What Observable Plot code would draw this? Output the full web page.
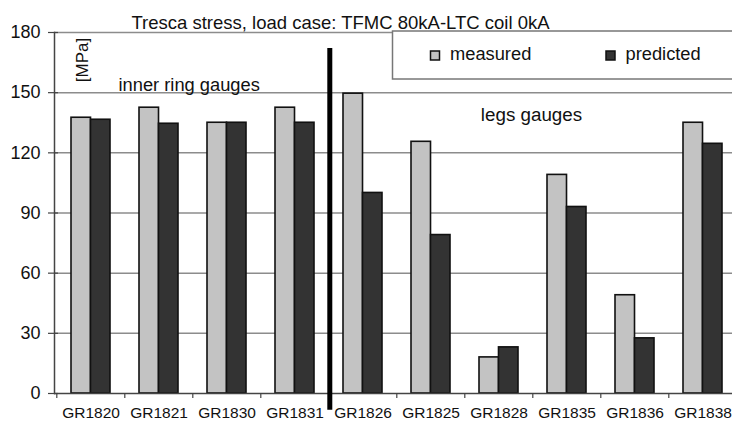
<!DOCTYPE html>
<html>
<head>
<meta charset="utf-8">
<script src="https://cdn.jsdelivr.net/npm/d3@7"></script>
<script src="https://cdn.jsdelivr.net/npm/@observablehq/plot@0.6"></script>
<style>
  html, body { margin: 0; padding: 0; background: #fff; overflow: hidden; }
  #chart svg { display: block; }
</style>
</head>
<body>
<div id="chart"></div>
<script>
const gauges = ["GR1820", "GR1821", "GR1830", "GR1831", "GR1826", "GR1825", "GR1828", "GR1835", "GR1836", "GR1838"];
const measured = [137.5, 142.5, 135, 142.5, 149.5, 125.5, 18, 109, 49, 135];
const predicted = [136.5, 134.5, 135, 135, 100, 79, 23, 93, 27.5, 124.5];
const seriesNames = ["measured", "predicted"];
const yTicks = [0, 30, 60, 90, 120, 150, 180];
const divider = ["GR1826"];
const title = "Tresca stress, load case: TFMC 80kA-LTC coil 0kA";
const unitLabel = "[MPa]";
const groupLabels = ["inner ring gauges", "legs gauges"];

const rows = gauges.flatMap((g, i) => [
  {gauge: g, series: seriesNames[0], value: measured[i]},
  {gauge: g, series: seriesNames[1], value: predicted[i]}
]);

const W = 732, H = 422, ML = 54, MR = -6, MT = 32, MB = 29;
const padInner = 0.43;
const step = (W - ML - MR) / gauges.length;
const half = step * (1 - padInner) / 2;
const colors = {measured: "#c3c3c3", predicted: "#333333"};
const font = "'Liberation Sans', Arial, Helvetica, sans-serif";

const plot = Plot.plot({
  width: W, height: H,
  marginLeft: ML, marginRight: MR, marginTop: MT, marginBottom: MB,
  style: {fontFamily: font, color: "#111", background: "#fff", overflow: "hidden"},
  x: {domain: gauges, paddingInner: padInner, paddingOuter: padInner / 2, label: null},
  y: {domain: [0, 180], label: null},
  marks: [
    Plot.gridY(yTicks.filter(d => d > 0), {stroke: "#8c8c8c", strokeOpacity: 1, strokeWidth: 1.5}),
    Plot.barY(rows.filter(d => d.series === "measured"), {
      x: "gauge", y: "value", fill: colors.measured, stroke: "#111", strokeWidth: 1.6, insetRight: half
    }),
    Plot.barY(rows.filter(d => d.series === "predicted"), {
      x: "gauge", y: "value", fill: colors.predicted, stroke: "#111", strokeWidth: 1.6, insetLeft: half
    }),
    Plot.ruleY([0], {stroke: "#444", strokeWidth: 1.5}),
    Plot.frame({anchor: "left", stroke: "#444", strokeWidth: 1.5}),
    Plot.axisY(yTicks, {tickSize: 10, dx: 4, text: null, stroke: "#444", strokeWidth: 1.2}),
    Plot.axisY(yTicks, {tickSize: 0, tickPadding: 14, fontSize: 18, label: null}),
    Plot.axisX({tickSize: 5, dx: -step / 2, text: null, stroke: "#444", strokeWidth: 1.2}),
    Plot.axisX({tickSize: 0, tickPadding: 13, fontSize: 15.5, label: null}),
    Plot.ruleX(divider, {x: d => d, dx: -step / 2 + 1, y1: -8.3, y2: 172, stroke: "#000", strokeWidth: 5}),
    Plot.text([title], {frameAnchor: "top-left", dx: 286, dy: -17, textAnchor: "middle", fontSize: 18.5, fill: "#111"}),
    Plot.text([unitLabel], {frameAnchor: "top-left", dx: 21, dy: 27.5, rotate: -90, textAnchor: "middle", fontSize: 17, fill: "#111"}),
    Plot.text([groupLabels[0]], {frameAnchor: "top-left", dx: 64, dy: 45, textAnchor: "start", fontSize: 18.3, fill: "#111"}),
    Plot.text([groupLabels[1]], {frameAnchor: "top-left", dx: 477, dy: 75, textAnchor: "middle", fontSize: 18.8, fill: "#111"})
  ]
});

document.getElementById("chart").appendChild(plot);

// legend box (inside the plot, top right)
const svg = d3.select(plot);
const lg = svg.append("g").attr("font-family", font).attr("font-size", 18.3)
  .attr("fill", "#111").attr("text-anchor", "start");
lg.append("rect").attr("x", 392.5).attr("y", 31).attr("width", 345).attr("height", 48)
  .attr("fill", "#fff").attr("stroke", "#777").attr("stroke-width", 1.5);
const legendX = [430.5, 606];
seriesNames.forEach((s, i) => {
  lg.append("rect").attr("x", legendX[i]).attr("y", 51).attr("width", 9).attr("height", 9)
    .attr("fill", colors[s]).attr("stroke", "#111").attr("stroke-width", 1.5);
  lg.append("text").attr("x", legendX[i] + 19.5).attr("y", 60).attr("text-anchor", "start").text(s);
});
</script>
</body>
</html>
